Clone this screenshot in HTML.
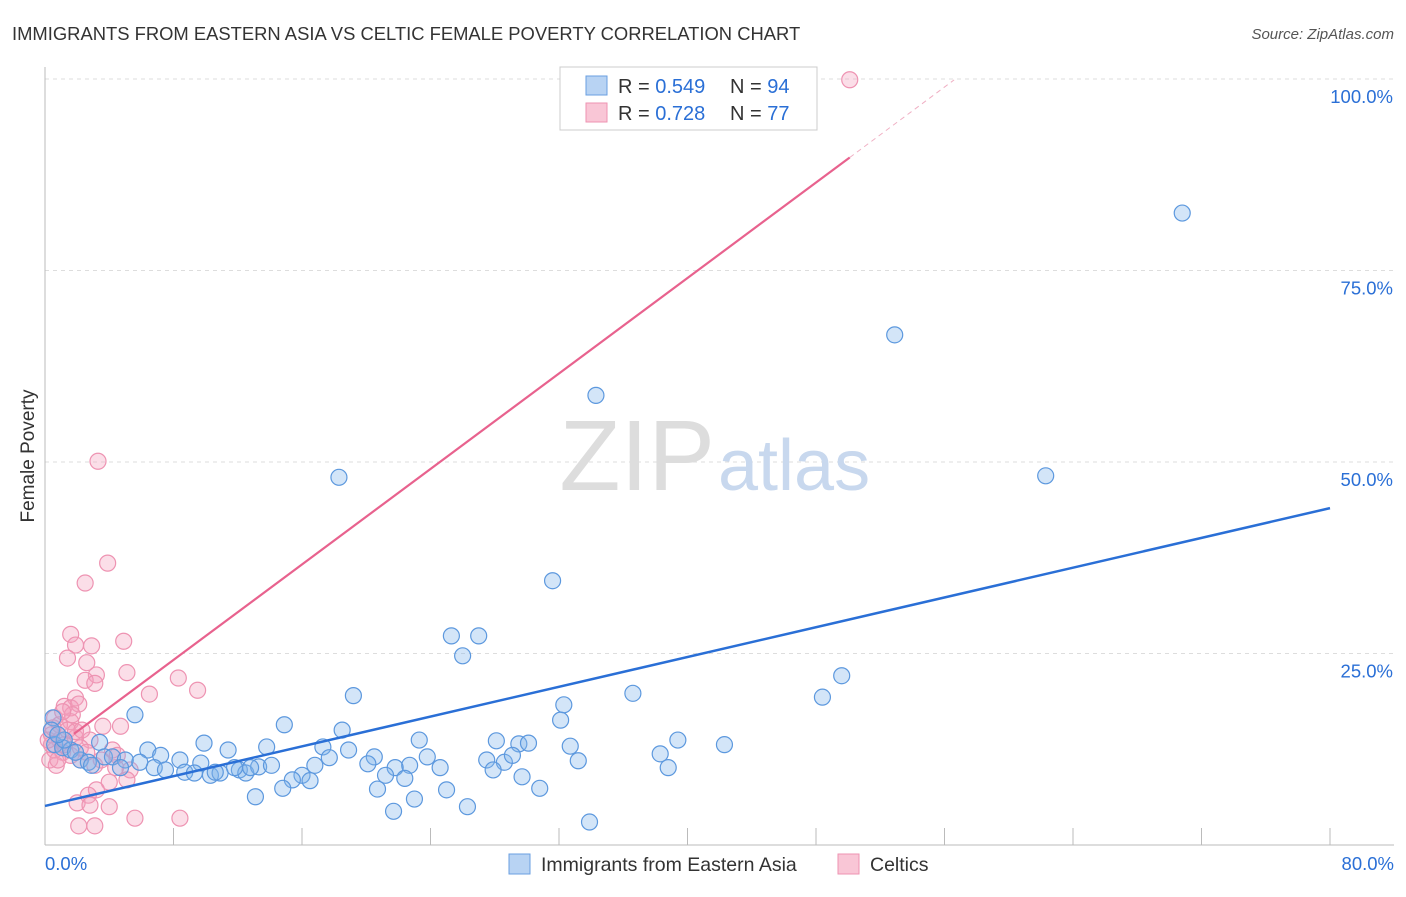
<!DOCTYPE html>
<html><head><meta charset="utf-8"><style>
body{margin:0;background:#fff;font-family:"Liberation Sans",sans-serif;}
svg text{font-family:"Liberation Sans",sans-serif;}
</style></head><body>
<svg id="chart" width="1406" height="892" xmlns="http://www.w3.org/2000/svg">
<text x="12" y="40" font-size="18.4" fill="#333">IMMIGRANTS FROM EASTERN ASIA VS CELTIC FEMALE POVERTY CORRELATION CHART</text>
<text x="1394" y="39" font-size="15" fill="#555" text-anchor="end" font-style="italic">Source: ZipAtlas.com</text>
<text x="34" y="456" font-size="19" fill="#333" text-anchor="middle" transform="rotate(-90 34 456)">Female Poverty</text>
<g id="grid"></g>
<text x="715" y="490" font-size="100" fill="#ddd" text-anchor="end" font-family="Liberation Serif">ZIP</text>
<text x="718" y="490" font-size="72" fill="#c8d8ee">atlas</text>
<g id="axes"></g>
<g id="pink"></g>
<g id="blue"></g>
<g id="lines"></g>
<g>
<rect x="560" y="67" width="257" height="63" fill="#fff" stroke="#ccc"/>
<rect x="586" y="76" width="21" height="19" fill="#b8d3f3" stroke="#6a9fe0"/>
<rect x="586" y="103" width="21" height="19" fill="#f9c6d6" stroke="#ee93b2"/>
<text x="618" y="93" font-size="20" fill="#333">R = <tspan fill="#2a6fd6">0.549</tspan><tspan x="730">N = </tspan><tspan fill="#2a6fd6">94</tspan></text>
<text x="618" y="120" font-size="20" fill="#333">R = <tspan fill="#2a6fd6">0.728</tspan><tspan x="730">N = </tspan><tspan fill="#2a6fd6">77</tspan></text>
</g>
<g>
<rect x="509" y="854" width="21" height="20" fill="#b8d3f3" stroke="#6a9fe0"/>
<text x="541" y="871" font-size="19.5" fill="#333">Immigrants from Eastern Asia</text>
<rect x="838" y="854" width="21" height="20" fill="#f9c6d6" stroke="#ee93b2"/>
<text x="870" y="871" font-size="19.5" fill="#333">Celtics</text>
</g>
</svg>
<script>
const blueX=[70.8,52.9,34.3,62.3,18.3,31.6,25.3,27.0,26.0,49.6,48.4,36.6,19.2,32.3,32.1,5.6,14.9,18.5,23.3,39.4,42.3,32.7,28.1,29.5,30.1,13.8,17.3,9.9,11.4,6.4,0.5,0.4,0.6,1.1,1.6,3.4,2.2,2.7,3.7,4.2,5.0,7.2,8.4,9.7,6.8,7.5,8.7,9.3,10.3,10.9,12.1,12.5,13.3,14.1,17.7,18.9,20.5,20.1,22.7,23.8,24.6,27.5,28.6,29.1,27.9,29.7,30.8,33.2,38.3,38.8,21.8,21.2,22.4,16.0,16.5,15.4,14.8,20.7,23.0,13.1,21.7,25.0,26.3,33.9,16.8,12.8,10.6,11.8,5.9,4.7,2.9,1.9,1.2,0.8];
const blueY=[82.5,66.6,58.7,48.2,48.0,34.5,27.3,27.3,24.7,22.1,19.3,19.8,19.5,18.3,16.3,17.0,15.7,15.0,13.7,13.7,13.1,12.9,13.6,13.2,13.3,12.8,12.8,13.3,12.4,12.4,16.6,15.0,13.1,12.7,12.4,13.4,11.1,10.8,11.5,11.5,11.1,11.7,11.1,10.7,10.1,9.8,9.5,9.4,9.1,9.4,9.8,9.4,10.2,10.4,11.4,12.4,11.5,10.6,10.4,11.5,10.1,11.1,10.8,11.7,9.8,8.9,7.4,11.0,11.9,10.1,10.1,9.1,8.7,9.1,8.4,8.5,7.4,7.3,6.0,6.3,4.4,7.2,5.0,3.0,10.4,10.1,9.5,10.1,10.8,10.1,10.4,12.1,13.7,14.4];
const pinkX=[50.1,3.3,3.9,2.5,1.6,1.9,2.9,4.9,1.4,2.6,5.1,3.2,2.5,3.1,8.3,9.5,6.5,1.9,1.2,1.6,2.1,0.6,1.6,4.7,3.6,0.4,0.9,1.9,2.8,0.6,1.1,1.6,2.2,0.3,0.7,3.1,4.2,4.4,5.3,5.1,4.0,3.2,2.7,2.0,2.8,4.0,5.6,8.4,2.1,3.1,0.4,0.8,1.2,2.2,2.6,0.2,0.9,1.4,1.9,0.5,3.5,4.5,2.3,1.7,1.1];
const pinkY=[99.9,50.1,36.8,34.2,27.5,26.1,26.0,26.6,24.4,23.8,22.5,22.2,21.5,21.1,21.8,20.2,19.7,19.2,18.1,17.9,18.4,16.6,16.1,15.5,15.5,14.4,13.7,14.0,13.7,12.4,12.1,11.7,11.1,11.1,10.4,10.4,12.4,10.1,9.8,8.5,8.2,7.2,6.5,5.5,5.2,5.0,3.5,3.5,2.5,2.5,13.1,11.1,13.1,12.7,12.1,13.7,15.7,15.0,14.8,15.3,11.1,11.7,15.0,17.0,17.4];
const blueFit=[5.1,0.486]; // [intercept, slope]  y = a + b*x
const pinkFit=[11.7,1.558];
const xTicks=[0,8,16,24,32,40,48,56,64,72,80];
const yTicks=[25,50,75,100];
const NS="http://www.w3.org/2000/svg";
const X=v=>45+v*(1285/80), Y=v=>845-v*7.66;
function mk(t,a,p){const e=document.createElementNS(NS,t);for(const k in a)e.setAttribute(k,a[k]);p.appendChild(e);return e;}
const grid=document.getElementById('grid'),axes=document.getElementById('axes');
yTicks.forEach(t=>{
 const l=mk('line',{x1:45,x2:1394,y1:Y(t),y2:Y(t),stroke:'#ddd','stroke-dasharray':'4,4'},grid);
 
 
 const tx=mk('text',{x:1393,y:Y(t)+24,'font-size':18.5,fill:'#2a6fd6','text-anchor':'end'},axes);
 tx.textContent=t.toFixed(1)+'%';
 
 
});
mk('line',{x1:45,x2:1330,y1:845,y2:845,stroke:'#bbb'},axes);
mk('line',{x1:45,x2:45,y1:67,y2:845,stroke:'#bbb'},axes);
mk('line',{x1:45,x2:1394,y1:845,y2:845,stroke:'#bbb'},axes);
xTicks.forEach(t=>{
 const l=mk('line',{x1:X(t),x2:X(t),y1:828,y2:845,stroke:'#bbb'},axes);
 
 
});
[[0,'start',45],[80,'end',1394]].forEach(([v,a,x])=>{
 const tx=mk('text',{x:x,y:870,'font-size':18.5,fill:'#2a6fd6','text-anchor':a},axes);
 tx.textContent=v.toFixed(1)+'%';
 
 
});
const pg=document.getElementById('pink'),bg=document.getElementById('blue');
pinkX.forEach((v,i)=>{
 const c=mk('circle',{cx:X(v),cy:Y(pinkY[i]),r:8,fill:'rgba(244,160,188,0.35)',stroke:'#ee93b2','stroke-width':1.2},pg);
 
 
});
blueX.forEach((v,i)=>{
 const c=mk('circle',{cx:X(v),cy:Y(blueY[i]),r:8,fill:'rgba(130,180,235,0.35)',stroke:'#5c98de','stroke-width':1.2},bg);
 
 
});
const lg=document.getElementById('lines');
const bl=mk('line',{x1:X(0),y1:Y(blueFit[0]),x2:X(80),y2:Y(blueFit[0]+blueFit[1]*80),stroke:'#2a6fd6','stroke-width':2.5},lg);


const px0=1.8,px1=50.1,px2=56.6;
const pl=mk('line',{x1:X(px0),y1:Y(pinkFit[0]+pinkFit[1]*px0),x2:X(px1),y2:Y(pinkFit[0]+pinkFit[1]*px1),stroke:'#e8628e','stroke-width':2.2},lg);


const pd=mk('line',{x1:X(px1),y1:Y(pinkFit[0]+pinkFit[1]*px1),x2:X(px2),y2:Y(pinkFit[0]+pinkFit[1]*px2),stroke:'#f0b0c4','stroke-width':1,'stroke-dasharray':'5,4'},lg);


</script>
</body></html>
